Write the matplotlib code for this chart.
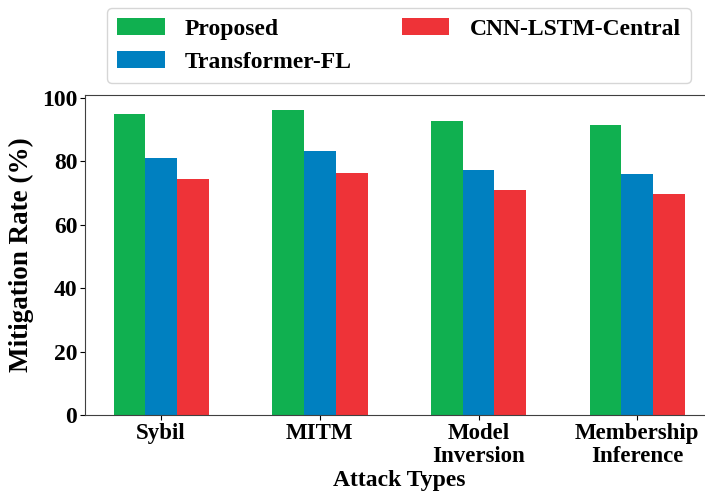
import matplotlib
matplotlib.use("Agg")
import matplotlib.pyplot as plt
import numpy as np

attacks = ["Sybil", "MITM", "Model\nInversion", "Membership\nInference"]
proposed = [94.9, 96.1, 92.8, 91.4]
transformer_fl = [81.0, 83.2, 77.4, 75.9]
cnn_lstm_central = [74.5, 76.2, 71.0, 69.8]
series_names = ["Proposed", "Transformer-FL", "CNN-LSTM-Central"]
colors = ["#10b050", "#0080c0", "#ee3338"]

plt.rcParams["font.family"] = ["Liberation Serif", "DejaVu Serif"]
plt.rcParams["font.weight"] = "bold"

fig = plt.figure(figsize=(7.05, 4.93), dpi=100)
ax = fig.add_axes([85 / 705, 78 / 493, 0.8915, 320 / 493])

x = np.arange(len(attacks))
w = 0.2
for i, (vals, name, c) in enumerate(zip([proposed, transformer_fl, cnn_lstm_central],
                                        series_names, colors)):
    ax.bar(x + (i - 1) * w, vals, w, color=c, label=name)

ax.set_xticks(x)
ax.set_xticklabels(attacks, fontsize=16.5, fontweight="bold", linespacing=1.1)
ax.set_yticks([0, 20, 40, 60, 80, 100])
ax.tick_params(axis="x", pad=2.5)
ax.tick_params(axis="y", labelsize=17, pad=2)
for lab in ax.get_yticklabels():
    lab.set_fontweight("bold")
ax.set_xlabel("Attack Types", fontsize=17, fontweight="bold", labelpad=2)
ax.set_ylabel("Mitigation Rate (%)", fontsize=19.5, fontweight="bold", labelpad=6)
for sp in ax.spines.values():
    sp.set_color("#404040")

fig.legend(loc="upper left", bbox_to_anchor=(107 / 705, 1 - 8 / 493), ncol=2,
           borderaxespad=0, prop={"size": 17, "weight": "bold"},
           handlelength=2.03, handleheight=0.72, columnspacing=2.1,
           borderpad=0.42, labelspacing=0.5, handletextpad=0.85)

fig.savefig("out.png", dpi=100)
